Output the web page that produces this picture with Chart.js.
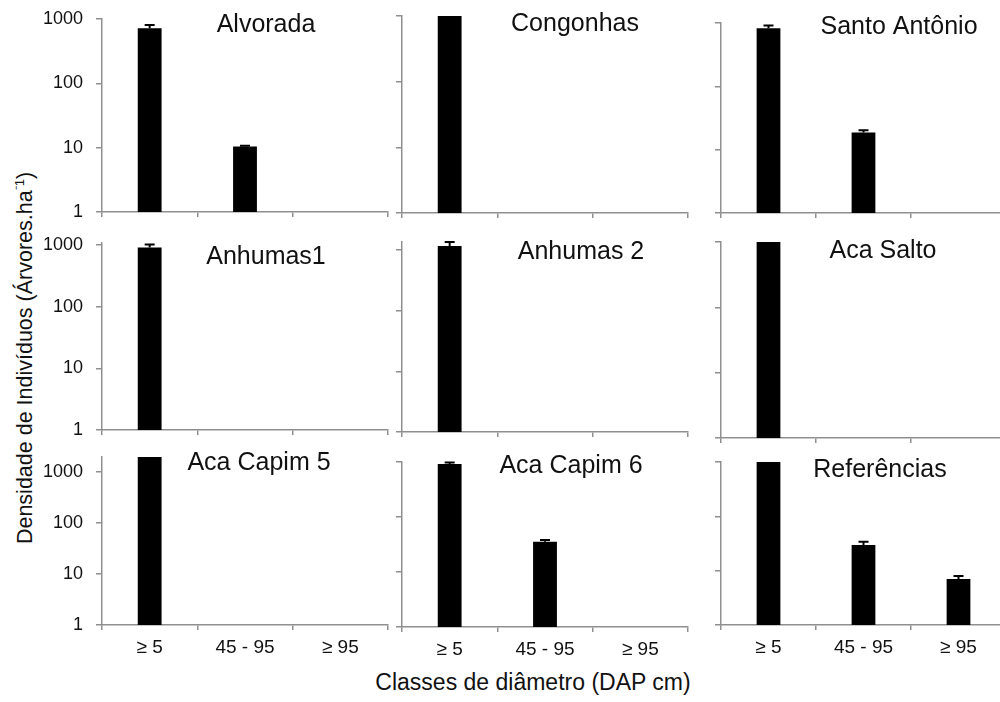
<!DOCTYPE html>
<html>
<head>
<meta charset="utf-8">
<script src="https://cdn.jsdelivr.net/npm/chart.js@4.4.1/dist/chart.umd.min.js"></script>
<style>
  html, body { margin: 0; padding: 0; background: #fff; overflow: hidden; }
  body { position: relative; width: 1000px; height: 702px; font-family: "Liberation Sans", Arial, sans-serif; }
  canvas { position: absolute; }
  .axis-title { position: absolute; color: #111; white-space: nowrap; }
</style>
</head>
<body>
<div class="axis-title" id="xTitle" style="left:533px; top:682px; font-size:23px; transform:translate(-50%,-50%);">Classes de diâmetro (DAP cm)</div>
<div class="axis-title" id="yTitle" style="left:24px; top:358px; font-size:21.5px; transform:translate(-50%,-50%) rotate(-90deg);">Densidade de Indivíduos (Árvores.ha<sup style="font-size:13px">⁻1</sup>)</div>
<script>
// Diameter classes (DAP, cm)
const categories = ['≥ 5', '45 - 95', '≥ 95'];
const siteNames = ['Alvorada', 'Congonhas', 'Santo Antônio', 'Anhumas1', 'Anhumas 2', 'Aca Salto', 'Aca Capim 5', 'Aca Capim 6', 'Referências'];
const yTickValues = [1, 10, 100, 1000];

// Tree density per class (trees/ha) and upper error of each bar
const alvorada      = [720, 10.4, null];
const alvoradaErr   = [90, 0.3, null];
const congonhas     = [1150, null, null];
const congonhasErr  = [null, null, null];
const santoAntonio  = [830, 18.6, null];
const santoAntonioErr = [85, 1.7, null];
const anhumas1      = [915, null, null];
const anhumas1Err   = [105, null, null];
const anhumas2      = [1160, null, null];
const anhumas2Err   = [190, null, null];
const acaSalto      = [1200, null, null];
const acaSaltoErr   = [null, null, null];
const acaCapim5     = [2100, null, null];
const acaCapim5Err  = [null, null, null];
const acaCapim6     = [920, 35.6, null];
const acaCapim6Err  = [60, 2.4, null];
const referencias   = [1250, 29.7, 7.0];
const referenciasErr = [null, 4.5, 1.0];

const seriesValues = [alvorada, congonhas, santoAntonio, anhumas1, anhumas2, acaSalto, acaCapim5, acaCapim6, referencias];
const seriesErrors = [alvoradaErr, congonhasErr, santoAntonioErr, anhumas1Err, anhumas2Err, acaSaltoErr, acaCapim5Err, acaCapim6Err, referenciasErr];

// Plot-area frame of every panel on the page, its axis top and its title centre
const frames = [
  { l: 102, t: 19,  r: 388,  b: 212, max: 1000, tx: 266, ty: 25 },
  { l: 402, t: 16,  r: 688,  b: 213, max: 1000, tx: 575, ty: 24 },
  { l: 721, t: 23,  r: 1006, b: 213, max: 1000, tx: 899, ty: 27 },
  { l: 102, t: 243, r: 388,  b: 430, max: 1080, tx: 266, ty: 257 },
  { l: 402, t: 242, r: 688,  b: 432, max: 1350, tx: 581, ty: 252 },
  { l: 721, t: 242, r: 1006, b: 438, max: 1000, tx: 883, ty: 251 },
  { l: 102, t: 457, r: 388,  b: 625, max: 1970, tx: 259, ty: 463 },
  { l: 402, t: 462, r: 688,  b: 627, max: 1000, tx: 571, ty: 466 },
  { l: 721, t: 462, r: 1006, b: 625, max: 1000, tx: 880, ty: 470 }
];

const AXIS_GRAY = '#8f8f8f';
const TEXT = '#111';
const FONT = '"Liberation Sans", Arial, sans-serif';

function titlePlugin(text, x, y) {
  return {
    id: 'panelTitle',
    afterDraw(chart) {
      const ctx = chart.ctx;
      ctx.save();
      ctx.font = '25px ' + FONT;
      ctx.fillStyle = TEXT;
      ctx.textAlign = 'center';
      ctx.textBaseline = 'middle';
      ctx.fillText(text, x, y);
      ctx.restore();
    }
  };
}

function errorBarPlugin(errors) {
  return {
    id: 'errorBars',
    afterDatasetsDraw(chart) {
      const meta = chart.getDatasetMeta(0);
      const yScale = chart.scales.y;
      const values = chart.data.datasets[0].data;
      const ctx = chart.ctx;
      ctx.save();
      ctx.strokeStyle = '#000';
      ctx.lineWidth = 2;
      meta.data.forEach((bar, i) => {
        const v = values[i], e = errors[i];
        if (v == null || e == null) return;
        const yTop = yScale.getPixelForValue(v + e);
        ctx.beginPath();
        ctx.moveTo(bar.x, bar.y);
        ctx.lineTo(bar.x, yTop);
        ctx.moveTo(bar.x - 5, yTop);
        ctx.lineTo(bar.x + 5, yTop);
        ctx.stroke();
      });
      ctx.restore();
    }
  };
}

function noOverhang(s) {
  s.paddingTop = 0; s.paddingBottom = 0; s.paddingLeft = 0; s.paddingRight = 0;
}

frames.forEach((f, i) => {
  const col = i % 3, row = Math.floor(i / 3);
  const wy = col === 0 ? 100 : 20;
  const hx = row === 2 ? 50 : 12;
  const pt = 8, pr = 4;
  const cl = f.l - wy, ct = f.t - pt;
  const cw = f.r - f.l + wy + pr, ch = f.b - f.t + pt + hx;

  const canvas = document.createElement('canvas');
  canvas.width = cw;
  canvas.height = ch;
  canvas.style.left = cl + 'px';
  canvas.style.top = ct + 'px';
  canvas.style.width = cw + 'px';
  canvas.style.height = ch + 'px';
  document.body.appendChild(canvas);

  new Chart(canvas, {
    type: 'bar',
    data: {
      labels: categories,
      datasets: [{
        data: seriesValues[i],
        backgroundColor: '#000',
        borderWidth: 0,
        barPercentage: 0.25,
        categoryPercentage: 1,
        clip: 0
      }]
    },
    options: {
      responsive: false,
      animation: false,
      devicePixelRatio: 1,
      layout: { padding: { top: pt, right: pr, left: 0, bottom: 0 } },
      plugins: { legend: { display: false }, tooltip: { enabled: false } },
      scales: {
        x: {
          type: 'category',
          offset: true,
          grid: { offset: true, drawOnChartArea: false, drawTicks: true, tickLength: 5, color: AXIS_GRAY, lineWidth: 1.5 },
          border: { display: true, color: AXIS_GRAY, width: 1.5 },
          ticks: { display: row === 2, color: TEXT, font: { family: FONT, size: 19 }, padding: 6, maxRotation: 0 },
          afterFit: s => { s.height = hx; noOverhang(s); }
        },
        y: {
          type: 'logarithmic',
          bounds: 'data',
          min: 1,
          max: f.max,
          grid: { drawOnChartArea: false, drawTicks: true, tickLength: 6, color: AXIS_GRAY, lineWidth: 1.5 },
          border: { display: true, color: AXIS_GRAY, width: 1.5 },
          ticks: { display: col === 0, color: TEXT, font: { family: FONT, size: 18 }, padding: 13, callback: v => String(v) },
          afterBuildTicks: s => { s.ticks = yTickValues.filter(v => v <= s.max).map(v => ({ value: v })); },
          afterFit: s => { s.width = wy; noOverhang(s); }
        }
      }
    },
    plugins: [errorBarPlugin(seriesErrors[i]), titlePlugin(siteNames[i], f.tx - cl, f.ty - ct)]
  });
});
</script>
</body>
</html>
